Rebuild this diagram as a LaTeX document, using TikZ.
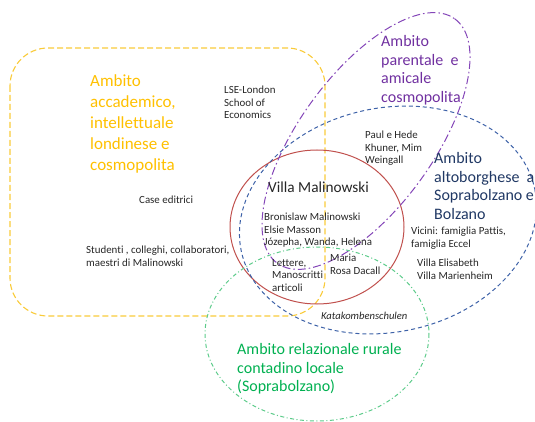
\documentclass[tikz,border=0pt]{standalone}
\usepackage{fontspec}
\setmainfont{Carlito}[Ligatures=NoCommon]
\definecolor{yeltext}{HTML}{FFC000}
\definecolor{yelline}{HTML}{F9CB3A}
\definecolor{purtext}{HTML}{7030A0}
\definecolor{purline}{HTML}{8446B8}
\definecolor{blutext}{HTML}{203864}
\definecolor{bluline}{HTML}{3E62A8}
\definecolor{redline}{HTML}{C0504D}
\definecolor{grntext}{HTML}{00B050}
\definecolor{grnline}{HTML}{5CCB8A}
\begin{document}
\begin{tikzpicture}[x=1pt,y=-1pt,
  txt/.style={anchor=north west,inner sep=0pt,align=left},
  small/.style={txt,font=\fontsize{10.9}{12.5}\selectfont,text=black!85},
  title/.style={txt,font=\fontsize{16}{18.8}\selectfont},
  yelbox/.style={draw=yelline,line width=1.1pt,dash pattern=on 6pt off 3pt,rounded corners=38pt},
  purell/.style={draw=purline,line width=1pt,dash pattern=on 8pt off 3pt on 1.5pt off 3pt},
  bluell/.style={draw=bluline,line width=1pt,dash pattern=on 4pt off 3pt},
  redell/.style={draw=redline,line width=1pt},
  grnell/.style={draw=grnline,line width=1pt,dash pattern=on 4pt off 2.5pt on 1pt off 2.5pt}]
\useasboundingbox (0,0) rectangle (535,422);
% shapes
\draw[yelbox] (10,48) rectangle (325,316);
\draw[redell] (317,227) ellipse [x radius=87, y radius=77];
\draw[bluell, rotate around={12:(388,220)}] (388,220) ellipse [x radius=150, y radius=112];
\draw[purell, rotate around={54:(366,141)}] (366,141) ellipse [x radius=151, y radius=67];
\draw[grnell] (317,334) ellipse [x radius=112, y radius=87];
% titles
\node[txt,font=\fontsize{17}{21.2}\selectfont,text=yeltext] (tyel) at (90,74) {Ambito\\accademico,\\intellettuale\\londinese e\\cosmopolita};
\node[title,text=purtext] (tpur) at (381,35) {Ambito\\parentale\ \ e\\amicale\\cosmopolita};
\node[title,text=blutext] (tblu) at (434,152) {Ambito\\altoborghese\ \ a\\Soprabolzano\ e\\Bolzano};
\node[title,text=grntext] (tgrn) at (237,343) {Ambito relazionale\ rurale\\contadino locale\\(Soprabolzano)};
\node[txt,font=\fontsize{15.3}{18}\selectfont,text=black!85] (villa) at (268,182) {Villa Malinowski};
% small texts
\node[small] (lse) at (224,86) {LSE-London\\School of\\Economics};
\node[small] (case) at (139,196) {Case editrici};
\node[small] (stud) at (86,246) {Studenti , colleghi, collaboratori,\\maestri di Malinowski};
\node[small] (paul) at (365,131) {Paul e Hede\\Khuner, Mim\\Weingall};
\node[small] (fam) at (264,213) {Bronislaw Malinowski\\Elsie Masson\\Józepha, Wanda, Helena};
\node[small] (lett) at (272,259) {Lettere,\\Manoscritti\\articoli};
\node[small] (maria) at (330,254) {Maria\\Rosa Dacall};
\node[small] (vic) at (411,227) {Vicini: famiglia Pattis,\\famiglia Eccel};
\node[small] (ville) at (417,259) {Villa Elisabeth\\Villa Marienheim};
\node[small,font=\fontsize{10.6}{12.5}\selectfont\itshape] (kata) at (321,312) {Katakombenschulen};
\end{tikzpicture}
\end{document}
